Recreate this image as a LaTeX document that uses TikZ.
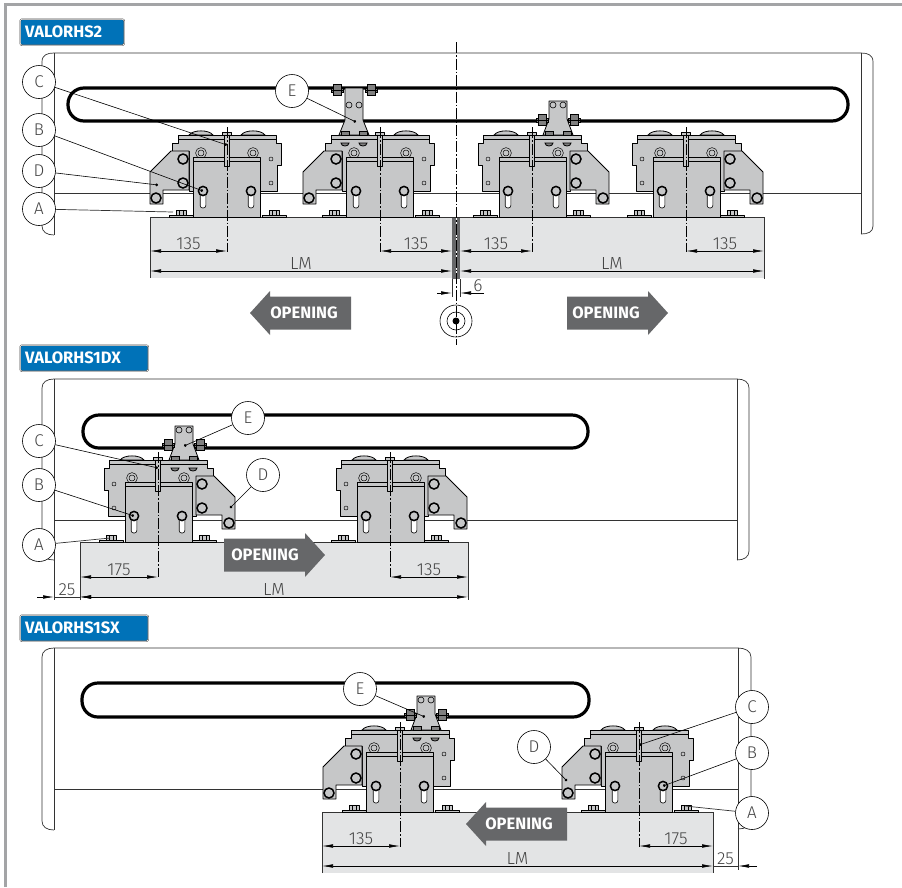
\documentclass[tikz,border=0pt]{standalone}
\usepackage{amsmath,amssymb}
\usepackage{fontspec}
\setmainfont{Fira Sans}
\newfontfamily\lightfont{Fira Sans Light}
\usepackage{tikz}
\usetikzlibrary{arrows.meta,positioning,calc}
\definecolor{partgray}{HTML}{C6C7C8}
\definecolor{blockgray}{HTML}{E3E4E5}
\definecolor{signgray}{HTML}{666769}
\definecolor{tagblue}{HTML}{0072B8}
\definecolor{framegray}{HTML}{A3A4A6}
\definecolor{labelgray}{HTML}{444444}
\tikzset{
  partline/.style={draw=black,line width=.8pt,fill=partgray,line join=round},
  thinpart/.style={draw=black,line width=.5pt,fill=partgray,line join=round},
  thickring/.style={draw=black,line width=1.5pt,fill=partgray},
  boltpart/.style={draw=black,line width=.8pt,fill=gray},
  beamline/.style={draw=black!80,line width=.7pt},
  beltline/.style={draw=black,line width=3.2pt,rounded corners=16pt},
  centerline/.style={draw=black,line width=.45pt,dash pattern=on 11pt off 2pt on 1.5pt off 2pt},
  dimline/.style={draw=black,line width=.6pt,{Latex[length=11pt,width=3.6pt]}-{Latex[length=11pt,width=3.6pt]}},
  dimarrow/.style={draw=black,line width=.6pt,-{Latex[length=11pt,width=3.6pt]}},
  dimtext/.style={font=\lightfont\fontsize{17.5}{17.5}\selectfont,text=labelgray,inner sep=1pt},
  callout/.style={circle,draw=black,line width=.6pt,fill=white,minimum size=33pt,inner sep=0pt,
    font=\lightfont\fontsize{17}{17}\selectfont,text=labelgray},
  leader/.style={draw=black,line width=.6pt,-{Circle[length=2.8pt]}},
  tagbox/.style={draw=black!80,double=white,double distance=.6pt,line width=.4pt,fill=tagblue,rounded corners=2pt,
    anchor=north west,minimum height=26pt,inner xsep=5pt,inner ysep=0pt,align=left,text=white,
    font=\bfseries\fontsize{16.5}{16.5}\selectfont},
  openlabel/.style={text=white,inner sep=0pt,font=\bfseries\fontsize{16.5}{16.5}\selectfont},
  opensign/.pic={
    \fill[signgray] (0,-16.5) -- (81,-16.5) -- (81,-22) -- (101,0) -- (81,22) -- (81,16.5) -- (0,16.5) -- cycle;
  },
  baseslot/.pic={
    \draw[draw=black,line width=.6pt,fill=white,rounded corners=2.5pt] (-2.8,-28) rectangle (2.8,-9);
    \draw[thickring] (0,-26) circle (4.6);
  },
  basebolt/.pic={
    \draw[partline] (-12,-2) rectangle (12,0);
    \draw[partline] (-5,-6.5) rectangle (5,-2);
    \draw[line width=.4pt] (-1.7,-6.5) -- (-1.7,-2) (1.7,-6.5) -- (1.7,-2);
  },
  topring/.pic={
    \draw[thinpart] (0,0) circle (5.4);
    \draw[thinpart] (0,0) circle (3);
  },
  carriage/.pic={
    \draw[partline] (-38,-82) .. controls (-34,-87.5) and (-18,-87.5) .. (-14,-82) -- cycle;
    \draw[partline] (14,-82) .. controls (18,-87.5) and (34,-87.5) .. (38,-82) -- cycle;
    \draw[partline] (-49,-82) -- (49,-82) -- (49,-74) -- (54,-74) -- (54,-52) -- (50,-52) -- (50,-26)
      -- (-38,-26) -- (-38,-66) -- (-55,-66) -- (-55,-74) -- (-49,-74) -- cycle;
    \draw[line width=.5pt] (-49,-78) -- (49,-78);
    \draw[partline] (-38,-66) -- (-56,-66) -- (-77,-45) -- (-77,-13) -- (-64,-13) -- (-64,-27) -- (-38,-27) -- cycle;
    \draw[thickring] (-44,-58) circle (5);
    \draw[thickring] (-44,-34) circle (5);
    \draw[thickring] (-71,-19) circle (5);
    \draw[thinpart] (44,-58) circle (2);
    \draw[thinpart] (44,-34) circle (2);
    \pic at (-26,-64) {topring};
    \pic at (26,-64) {topring};
    \draw[partline] (-34,0) rectangle (33,-60);
    \draw[line width=.6pt] (-34,-56) -- (33,-56);
    \pic at (-24,0) {baseslot};
    \pic at (24,0) {baseslot};
    \pic at (-46,0) {basebolt};
    \pic at (47,0) {basebolt};
    \draw[thinpart] (-2.6,-82) rectangle (2.6,-51);
    \draw[thinpart] (-4.5,-85) rectangle (4.5,-82);
    \draw[centerline] (0,-90) -- (0,35);
  },
  clampbolt/.pic={
    \draw[boltpart] (-6,-2) rectangle (6,2);
    \draw[boltpart] (-4,-5.5) rectangle (4,5.5);
    \draw[line width=.6pt] (-6,0) -- (6,0);
  },
  clampfoot/.pic={
    \draw[boltpart] (-4,-4) rectangle (4,0);
    \draw[boltpart] (-4,8) -- (4,8) .. controls (4,12) and (-4,12) .. (-4,8) -- cycle;
  },
  clamphigh/.pic={
    \draw[partline] (-9,-129) -- (9,-129) -- (9,-97) -- (15,-82) -- (-15,-82) -- (-9,-97) -- cycle;
    \draw[line width=.6pt] (-5,-112) circle (3) (5,-112) circle (3);
    \pic at (-17,-127) {clampbolt};
    \pic at (17,-127) {clampbolt};
    \pic at (-9,-82) {clampfoot};
    \pic at (9,-82) {clampfoot};
  },
  clamplow/.pic={
    \draw[partline] (-9,-116) -- (9,-116) -- (9,-98) -- (15,-82) -- (-15,-82) -- (-9,-98) -- cycle;
    \draw[line width=.6pt] (-5,-112) circle (3) (5,-112) circle (3);
    \pic at (-16,-97) {clampbolt};
    \pic at (16,-97) {clampbolt};
    \pic at (-9,-82) {clampfoot};
    \pic at (9,-82) {clampfoot};
  },
}

\begin{document}
\begin{tikzpicture}[x=1pt,y=-1pt]
      \useasboundingbox (0,0) rectangle (902,887);
      \draw[framegray,line width=3pt] (5.5,887) -- (5.5,4) -- (902,4);

      \node[tagbox,minimum width=104pt,text width=94pt] at(20,19)(tag1){VALORHS2};
      \node[tagbox,minimum width=128pt,text width=118pt] at(20,345)(tag2){VALORHS1DX};
      \node[tagbox,minimum width=128pt,text width=118pt] at(20,615)(tag3){VALORHS1SX};

      \fill[blockgray] (150,217) rectangle (452,278);
      \fill[blockgray] (460,217) rectangle (764,278);
      \fill[signgray] (452,217) rectangle (460,279);
      \draw[white,line width=.4pt] (456.5,217) -- (456.5,279);
      \draw[beamline] (150,278) -- (150,217) -- (764,217) -- (764,279);
      \draw[beamline] (42,62) .. controls (42,55) and (47,53) .. (54,53) -- (861,53) .. controls (868,53) and (873,55) .. (873,62)
        -- (873,226) .. controls (873,232) and (868,234) .. (861,234);
      \draw[beamline] (42,62) -- (42,226) .. controls (42,232) and (47,235) .. (54,235);
      \draw[beamline] (54,53) -- (54,235);
      \draw[beamline] (861,53) -- (861,234);
      \draw[beamline] (54,193) -- (861,193);
      \draw[beltline] (68,88) rectangle (848,121);

      \pic at(227,217){carriage};
      \pic at(380,217){carriage};
      \pic[xscale=-1] at(532,217){carriage};
      \pic[xscale=-1] at(686,217){carriage};
      \pic at(354,217){clamphigh};
      \pic at(558,217){clamplow};

      \coordinate (mt) at (456,42);
      \coordinate (mb) at (456,345);
      \draw[centerline] (mt) -- (mb);
      \draw[beamline] (452,279) -- (452,297);
      \draw[beamline] (460,279) -- (460,297);
      \coordinate (p1) at (150,251);
      \coordinate (p2) at (227,251);
      \coordinate (p3) at (380,251);
      \coordinate (p4) at (452,251);
      \coordinate (p5) at (460,251);
      \coordinate (p6) at (532,251);
      \coordinate (p7) at (686,251);
      \coordinate (p8) at (764,251);
      \coordinate (q1) at (150,271);
      \coordinate (q2) at (452,271);
      \coordinate (q3) at (460,271);
      \coordinate (q4) at (764,271);
      \draw[dimline] (p1) -- node[dimtext,above]{135} (p2);
      \draw[dimline] (p3) -- node[dimtext,above]{135} (p4);
      \draw[dimline] (p5) -- node[dimtext,above]{135} (p6);
      \draw[dimline] (p7) -- node[dimtext,above]{135} (p8);
      \draw[dimline] (q1) -- node[dimtext,above]{LM} (q2);
      \draw[dimline] (q3) -- node[dimtext,above]{LM} (q4);
      \coordinate (g1) at (437,293);
      \coordinate (g2) at (452,293);
      \coordinate (g3) at (484,293);
      \coordinate (g4) at (460,293);
      \draw[dimarrow] (g1) -- (g2);
      \draw[dimarrow] (g3) -- (g4);
      \node[dimtext,above=0pt of g3,xshift=-6pt](gap){6};

      \node[circle,draw=black,line width=.6pt,minimum size=32pt,inner sep=0pt] at(456,321)(ax1){};
      \node[circle,draw=black,line width=.6pt,minimum size=18pt,inner sep=0pt] at(456,321)(ax2){};
      \node[circle,fill=black,minimum size=7pt,inner sep=0pt] at(456,321)(ax3){};

      \pic at(351,313)[xscale=-1]{opensign};
      \pic at(567,313){opensign};
      \node[openlabel] at(304,313)(op1){OPENING};
      \node[openlabel] at(606,313)(op2){OPENING};

      \node[callout] at(39,82)(c1){C};
      \node[callout] at(39,130)(b1){B};
      \node[callout] at(39,171)(d1){D};
      \node[callout] at(39,209)(a1){A};
      \node[callout] at(292,91)(e1){E};
      \coordinate (c1e) at (227,145);
      \coordinate (b1e) at (203,191);
      \coordinate (d1e) at (158,185);
      \coordinate (a1e) at (173,212);
      \coordinate (e1e) at (356,122);
      \draw[leader] (c1) -- (c1e);
      \draw[leader] (b1) -- (b1e);
      \draw[leader] (d1) -- (d1e);
      \draw[beamline] (a1) -- (a1e);
      \draw[leader] (e1) -- (e1e);

      \fill[blockgray] (80,542) rectangle (468,597);
      \draw[beamline] (80,600) -- (80,542) -- (468,542) -- (468,600);
      \draw[beamline] (42,388) .. controls (42,382) and (47,379) .. (54,379) -- (737,379) .. controls (744,379) and (749,382) .. (749,388)
        -- (749,551) .. controls (749,557) and (744,560) .. (737,560);
      \draw[beamline] (42,388) -- (42,551) .. controls (42,557) and (47,560) .. (54,560);
      \draw[beamline] (54,379) -- (54,600);
      \draw[beamline] (737,379) -- (737,560);
      \draw[beamline] (54,520) -- (737,520);
      \draw[beltline] (83,415) rectangle (588,448);

      \pic[xscale=-1] at(158,542){carriage};
      \pic[xscale=-1] at(390,542){carriage};
      \pic at(184,542){clamplow};

      \pic at(224,555){opensign};
      \node[openlabel] at(265,555)(op3){OPENING};

      \coordinate (r1) at (80,577);
      \coordinate (r2) at (158,577);
      \coordinate (r3) at (390,577);
      \coordinate (r4) at (468,577);
      \coordinate (s1) at (80,597);
      \coordinate (s2) at (468,597);
      \coordinate (s3) at (37,597);
      \coordinate (s4) at (54,597);
      \coordinate (s5) at (92,597);
      \draw[dimline] (r1) -- node[dimtext,above]{175} (r2);
      \draw[dimline] (r3) -- node[dimtext,above]{135} (r4);
      \draw[dimline] (s1) -- node[dimtext,above]{LM} (s2);
      \draw[dimarrow] (s3) -- (s4);
      \draw[dimarrow] (s5) -- (s1);
      \draw[beamline] (s4) -- node[dimtext,above]{25} (s1);

      \node[callout] at(39,441)(c2){C};
      \node[callout] at(39,485)(b2){B};
      \node[callout] at(39,545)(a2){A};
      \node[callout] at(248,418)(e2){E};
      \node[callout] at(263,475)(d2){D};
      \coordinate (c2e) at (158,468);
      \coordinate (b2e) at (134,516);
      \coordinate (a2e) at (110,538);
      \coordinate (e2e) at (184,446);
      \coordinate (d2e) at (230,508);
      \draw[leader] (c2) -- (c2e);
      \draw[leader] (b2) -- (b2e);
      \draw[beamline] (a2) -- (a2e);
      \draw[leader] (e2) -- (e2e);
      \draw[leader] (d2) -- (d2e);

      \fill[blockgray] (322,812) rectangle (713,873);
      \draw[beamline] (322,873) -- (322,812) -- (713,812) -- (713,873);
      \draw[beamline] (42,657) .. controls (42,651) and (47,648) .. (54,648) -- (738,648) .. controls (745,648) and (751,651) .. (751,657)
        -- (751,820) .. controls (751,826) and (745,829) .. (738,829);
      \draw[beamline] (42,657) -- (42,821) .. controls (42,827) and (47,830) .. (54,830);
      \draw[beamline] (54,648) -- (54,830);
      \draw[beamline] (738,648) -- (738,870);
      \draw[beamline] (54,789) -- (738,789);
      \draw[beltline] (82,683) rectangle (589,717);

      \pic at(400,812){carriage};
      \pic at(639,812){carriage};
      \pic at(426,812){clamplow};

      \pic at(567,824)[xscale=-1]{opensign};
      \node[openlabel] at(519,824)(op4){OPENING};

      \coordinate (t1) at (322,846);
      \coordinate (t2) at (400,846);
      \coordinate (t3) at (639,846);
      \coordinate (t4) at (713,846);
      \coordinate (u1) at (322,866);
      \coordinate (u2) at (713,866);
      \coordinate (u3) at (700,866);
      \coordinate (u4) at (738,866);
      \coordinate (u5) at (757,866);
      \draw[dimline] (t1) -- node[dimtext,above]{135} (t2);
      \draw[dimline] (t3) -- node[dimtext,above]{175} (t4);
      \draw[dimline] (u1) -- node[dimtext,above]{LM} (u2);
      \draw[dimarrow] (u5) -- (u4);
      \draw[beamline] (u2) -- node[dimtext,above]{25} (u4);

      \node[callout] at(360,689)(e3){E};
      \node[callout] at(534,747)(d3){D};
      \node[callout] at(752,707)(c3){C};
      \node[callout] at(752,753)(b3){B};
      \node[callout] at(752,813)(a3){A};
      \coordinate (e3e) at (425,717);
      \coordinate (d3e) at (567,781);
      \coordinate (c3e) at (639,745);
      \coordinate (b3e) at (663,786);
      \coordinate (a3e) at (685,806);
      \draw[leader] (e3) -- (e3e);
      \draw[leader] (d3) -- (d3e);
      \draw[leader] (c3) -- (c3e);
      \draw[leader] (b3) -- (b3e);
      \draw[beamline] (a3) -- (a3e);
    \end{tikzpicture}
\end{document}
